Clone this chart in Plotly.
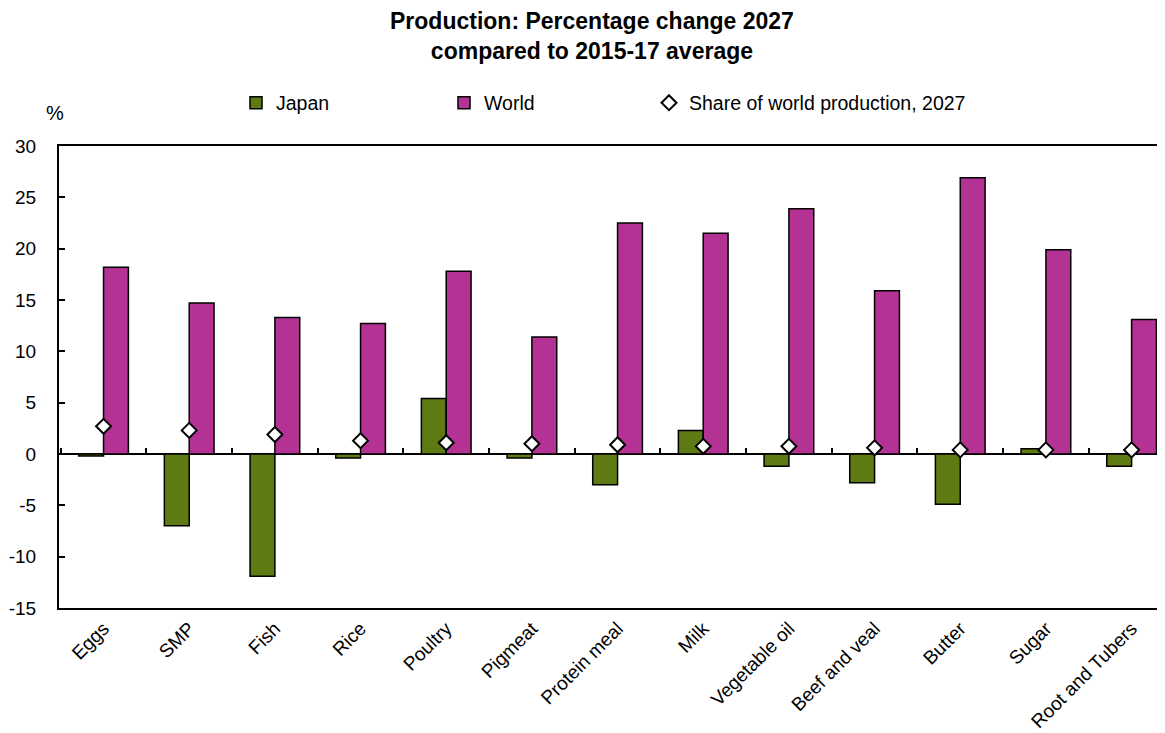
import plotly.graph_objects as go

categories = ["Eggs", "SMP", "Fish", "Rice", "Poultry", "Pigmeat", "Protein meal",
              "Milk", "Vegetable oil", "Beef and veal", "Butter", "Sugar", "Root and Tubers"]
japan = [-0.2, -7.0, -11.9, -0.4, 5.4, -0.4, -3.0, 2.3, -1.2, -2.8, -4.9, 0.5, -1.2]
world = [18.2, 14.7, 13.3, 12.7, 17.8, 11.4, 22.5, 21.5, 23.9, 15.9, 26.9, 19.9, 13.1]
share = [2.7, 2.3, 1.9, 1.3, 1.1, 1.0, 0.9, 0.75, 0.75, 0.6, 0.4, 0.4, 0.4]
y_ticks = [-15, -10, -5, 0, 5, 10, 15, 20, 25, 30]
y_ticktext = ["-15", "-10", "-5", "0", "5", "10", "15", "20", "25", "30"]

FONT = "Liberation Sans, Arial, sans-serif"
GREEN = "#5D7A13"
MAGENTA = "#B43293"

# page body has an 8px margin, so the figure is 8px smaller than the window
OFF = 8
W, H = 1165 - OFF, 733 - OFF
ML, MR, MT, MB = 59 - OFF, 0, 146 - OFF, 733 - 608
PW, PH = W - ML - MR, H - MT - MB


def px_x(x):  # reference-image pixel -> paper fraction
    return (x - OFF - ML) / PW


def px_y(y):
    return (H - MB - (y - OFF)) / PH


fig = go.Figure()
fig.add_trace(go.Bar(x=categories, y=japan, name="Japan", legendwidth=163,
                     marker=dict(color=GREEN, line=dict(color="black", width=1.5))))
fig.add_trace(go.Bar(x=categories, y=world, name="World", legendwidth=160,
                     marker=dict(color=MAGENTA, line=dict(color="black", width=1.5))))
fig.add_trace(go.Scatter(x=categories, y=share, name="Share of world production, 2027", mode="markers",
                         marker=dict(symbol="diamond", size=11.5, color="white", line=dict(color="black", width=2))))
# helper trace for the category boundary ticks along the zero line
fig.add_trace(go.Scatter(x=categories, y=[None] * len(categories), xaxis="x2", showlegend=False, hoverinfo="skip"))

fig.update_layout(
    width=W, height=H,
    margin=dict(l=ML, r=MR, t=MT, b=MB, autoexpand=False),
    paper_bgcolor="white", plot_bgcolor="white",
    font=dict(family=FONT, size=19, color="black"),
    barmode="group", bargap=0.42, bargroupgap=0,
    showlegend=True,
    legend=dict(orientation="h", x=px_x(236), xanchor="left", y=px_y(103), yanchor="middle",
                font=dict(size=19.5, family=FONT), bgcolor="rgba(0,0,0,0)", traceorder="normal"),
    xaxis=dict(type="category", categoryorder="array", categoryarray=categories,
               range=[-0.52, 12.39], showline=True, mirror=True, linecolor="black", linewidth=2,
               ticks="", tickangle=-45, tickfont=dict(size=19, family=FONT), showgrid=False),
    xaxis2=dict(type="category", categoryorder="array", categoryarray=categories, matches="x",
                overlaying="x", anchor="free", position=1 / 3, side="bottom",
                showline=False, ticks="inside", tickson="boundaries", ticklen=6, tickwidth=1.5,
                tickcolor="black", showticklabels=False, showgrid=False),
    yaxis=dict(range=[-15, 30], tickvals=y_ticks, ticktext=y_ticktext, showline=True,
               linecolor="black", linewidth=2, ticks="inside", ticklen=6, tickwidth=1.5,
               tickcolor="black", showgrid=False, ticklabelstandoff=17,
               zeroline=True, zerolinecolor="black", zerolinewidth=1.5,
               tickfont=dict(size=19, family=FONT)),
)
fig.add_annotation(text="<b>Production: Percentage change 2027<br>compared to 2015-17 average</b>",
                   x=px_x(592), y=px_y(6), xref="paper", yref="paper", showarrow=False,
                   xanchor="center", yanchor="top", font=dict(size=23, family=FONT))
fig.add_annotation(text="%", x=px_x(55), y=px_y(113), xref="paper", yref="paper", showarrow=False,
                   xanchor="center", yanchor="middle", font=dict(size=20, family=FONT))

fig.write_html("out.html")
